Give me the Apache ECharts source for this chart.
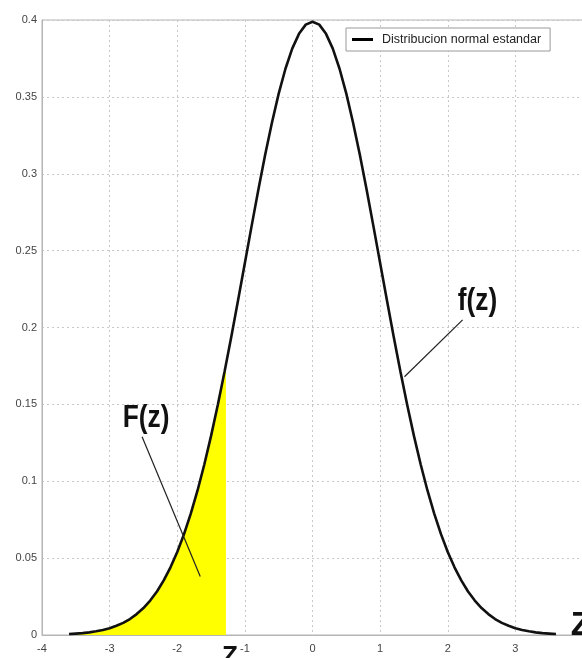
<!DOCTYPE html>
<html><head><meta charset="utf-8">
<script src="https://cdn.jsdelivr.net/npm/echarts@6/dist/echarts.min.js"></script>
<style>html,body{margin:0;padding:0;background:#fff}#c{width:582px;height:658px}</style>
</head><body><div id="c"></div>
<script>
// z positions along the curve
const zValues = [-3.6,-3.5,-3.4,-3.3,-3.2,-3.1,-3.0,-2.9,-2.8,-2.7,-2.6,-2.5,-2.4,-2.3,-2.2,-2.1,-2.0,-1.9,-1.8,-1.7,-1.6,-1.5,-1.4,-1.3,-1.2,-1.1,-1.0,-0.9,-0.8,-0.7,-0.6,-0.5,-0.4,-0.3,-0.2,-0.1,0.0,0.1,0.2,0.3,0.4,0.5,0.6,0.7,0.8,0.9,1.0,1.1,1.2,1.3,1.4,1.5,1.6,1.7,1.8,1.9,2.0,2.1,2.2,2.3,2.4,2.5,2.6,2.7,2.8,2.9,3.0,3.1,3.2,3.3,3.4,3.5,3.6];
// density f(z)
const density = [0.0006,0.0009,0.0012,0.0017,0.0024,0.0033,0.0044,0.0060,0.0079,0.0104,0.0136,0.0175,0.0224,0.0283,0.0355,0.0440,0.0540,0.0656,0.0790,0.0940,0.1109,0.1295,0.1497,0.1714,0.1942,0.2179,0.2420,0.2661,0.2897,0.3123,0.3332,0.3521,0.3683,0.3814,0.3910,0.3970,0.3989,0.3970,0.3910,0.3814,0.3683,0.3521,0.3332,0.3123,0.2897,0.2661,0.2420,0.2179,0.1942,0.1714,0.1497,0.1295,0.1109,0.0940,0.0790,0.0656,0.0540,0.0440,0.0355,0.0283,0.0224,0.0175,0.0136,0.0104,0.0079,0.0060,0.0044,0.0033,0.0024,0.0017,0.0012,0.0009,0.0006];
// end of shaded region F(z)
const cutZ = -1.28;
const cutDensity = 0.1758;
const xTicks = [-4,-3,-2,-1,0,1,2,3,4];
const yTicks = [0,0.05,0.1,0.15,0.2,0.25,0.3,0.35,0.4];
const legendLabel = 'Distribucion normal estandar';
const annotationTexts = ['F(z)', 'f(z)', 'Z', 'Z'];
const annotationAt = [[-2.46,0.141],[2.44,0.217],[-1.22,-0.014],[3.82,0.006]];
const leaderFrom = [[-2.52,0.129],[2.22,0.205]];
const leaderTo = [[-1.66,0.038],[1.36,0.168]];

const curve = zValues.map((z,i)=>[z,density[i]]);
const shaded = curve.filter(p=>p[0] < cutZ).concat([[cutZ,cutDensity]]);

const chart = echarts.init(document.getElementById('c'), null, {renderer:'canvas'});
const axisGray = '#b5b5b5';
const labelFont = '"Liberation Sans", Arial, sans-serif';
const option = {
  animation:false,
  backgroundColor:'#fff',
  grid:{left:42,right:-1,top:20,bottom:23,containLabel:false,outerBoundsMode:'none',
    show:true,borderColor:axisGray,borderWidth:1,backgroundColor:'transparent'},
  legend:{
    data:[{name:legendLabel,icon:'rect'}],
    left:346,top:28,padding:[5,9,5,6],itemWidth:21,itemHeight:3,
    borderColor:'#999',borderWidth:1,backgroundColor:'#fff',
    textStyle:{fontFamily:labelFont,fontSize:12.5,color:'#222',padding:[0,0,0,4]}
  },
  xAxis:{
    type:'value',min:xTicks[0],max:xTicks[xTicks.length-1],interval:1,
    axisLine:{show:true,onZero:false,lineStyle:{color:axisGray,width:1}},
    axisTick:{show:false},
    splitLine:{show:true,lineStyle:{color:'#c8c8c8',type:[2,3],width:1}},
    axisLabel:{margin:8,fontFamily:labelFont,fontSize:11,color:'#444',
      formatter:v=> v===xTicks[xTicks.length-1] ? '' : String(v)}
  },
  yAxis:{
    type:'value',min:yTicks[0],max:yTicks[yTicks.length-1],interval:0.05,
    axisLine:{show:true,onZero:false,lineStyle:{color:axisGray,width:1}},
    axisTick:{show:false},
    splitLine:{show:true,lineStyle:{color:'#c8c8c8',type:[2,3],width:1}},
    axisLabel:{margin:5,fontFamily:labelFont,fontSize:11,color:'#444',
      formatter:v=>String(Math.round(v*100)/100)}
  },
  series:[
    {type:'line',name:'F(z)',data:shaded,symbol:'none',z:1,
     lineStyle:{width:0,opacity:0},areaStyle:{color:'#ffff00',opacity:1},silent:true},
    {type:'line',name:legendLabel,data:curve,symbol:'none',z:3,
     itemStyle:{color:'#000'},lineStyle:{color:'#111',width:2.6}}
  ]
};
chart.setOption(option);
const px = p => chart.convertToPixel({gridIndex:0}, p);
const graphic = [];
const styles = [
  {font:'bold 32px "Liberation Sans"',align:'center',sx:0.82},
  {font:'bold 32px "Liberation Sans"',align:'center',sx:0.82},
  {font:'bold 26px "Liberation Sans"',align:'center',sx:1},
  {font:'bold 34px "Liberation Sans"',align:'left',sx:1}
];
annotationTexts.forEach((t,i)=>{
  const p = px(annotationAt[i]);
  graphic.push({type:'text',x:p[0],y:p[1],z:10,scaleX:styles[i].sx,
    style:{text:t,font:styles[i].font,fill:'#111',align:styles[i].align,verticalAlign:'middle'}});
});
leaderFrom.forEach((a,i)=>{
  const p1 = px(a), p2 = px(leaderTo[i]);
  graphic.push({type:'line',z:10,shape:{x1:p1[0],y1:p1[1],x2:p2[0],y2:p2[1]},
    style:{stroke:'#222',lineWidth:1.2}});
});
chart.setOption({graphic});
</script>
</body></html>
